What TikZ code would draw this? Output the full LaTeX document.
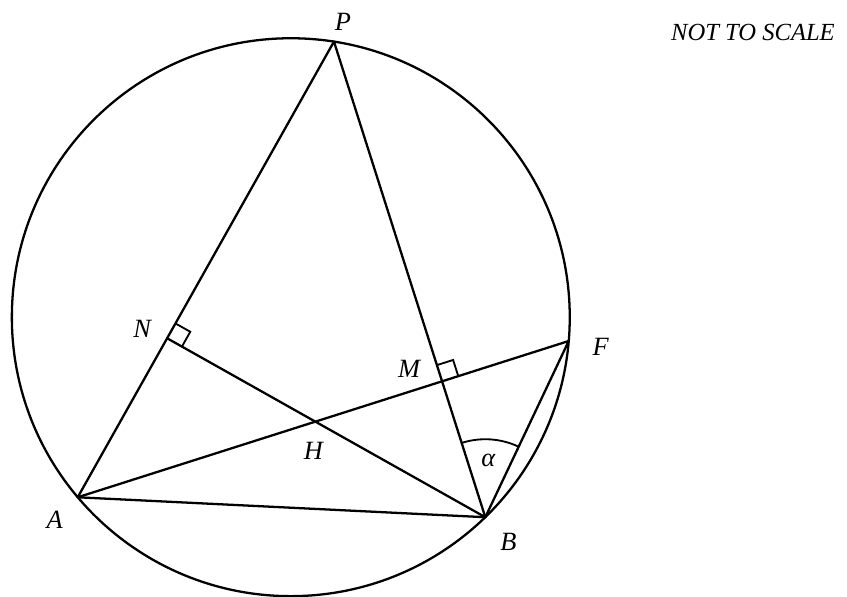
\documentclass[tikz,border=0pt]{standalone}
\usepackage{fontspec}
\setmainfont{Liberation Serif}
\usetikzlibrary{calc,angles}

\begin{document}
\begin{tikzpicture}[x=0.02cm,y=0.02cm,
  seg/.style={line width=1.3pt,line join=round},
  rmark/.style={line width=1.05pt},
  lbl/.style={font=\fontsize{15}{18}\selectfont\itshape,inner sep=0pt},
  note/.style={font=\fontsize{14}{16}\selectfont\itshape,inner sep=0pt}
]
  \useasboundingbox (0,0) rectangle (847,596);
  \coordinate (O) at (290.8,278.8);
  \draw[seg] (O) circle[radius=5.58cm];

  % points on the circle
  \coordinate (P) at ($(O)+(81.1:279)$);
  \coordinate (A) at ($(O)+(220.2:279)$);
  \coordinate (B) at ($(O)+(-45.8:279)$);
  % feet of the altitudes, orthocentre, second point F
  \coordinate (N) at ($(P)!(B)!(A)$);
  \coordinate (M) at ($(P)!(A)!(B)$);
  \coordinate (H) at (intersection of A--M and B--N);
  \coordinate (F) at ($(H)!2!(M)$);

  \draw[seg] (A) -- (P) -- (B) -- cycle;
  \draw[seg] (B) -- (N);
  \draw[seg] (A) -- (F) -- (B);

  % right angles
  \coordinate (n1) at ($(N)!0.34cm!(P)$);
  \coordinate (n2) at ($(N)!0.34cm!(B)$);
  \draw[rmark] (n1) -- ($(n1)+(n2)-(N)$) -- (n2);
  \coordinate (m1) at ($(M)!0.34cm!(P)$);
  \coordinate (m2) at ($(M)!0.34cm!(F)$);
  \draw[rmark] (m1) -- ($(m1)+(m2)-(M)$) -- (m2);

  % angle alpha
  \pic[draw,rmark,angle radius=1.56cm] {angle=F--B--P};

  \node[lbl] (lP) at ($(P)+(9,20)$) {P};
  \node[lbl] (lA) at ($(A)+(-23,-23)$) {A};
  \node[lbl] (lB) at ($(B)+(23,-25)$) {B};
  \node[lbl] (lF) at ($(F)+(32,-6)$) {F};
  \node[lbl] (lM) at ($(M)+(-33,12)$) {M};
  \node[lbl] (lN) at ($(N)+(-25,9)$) {N};
  \node[lbl] (lH) at ($(H)+(-2,-29)$) {H};
  \node[lbl] (la) at ($(B)+(3,57)$) {α};
  \node[note] (scl) at (753,564) {NOT TO SCALE};
\end{tikzpicture}
\end{document}
